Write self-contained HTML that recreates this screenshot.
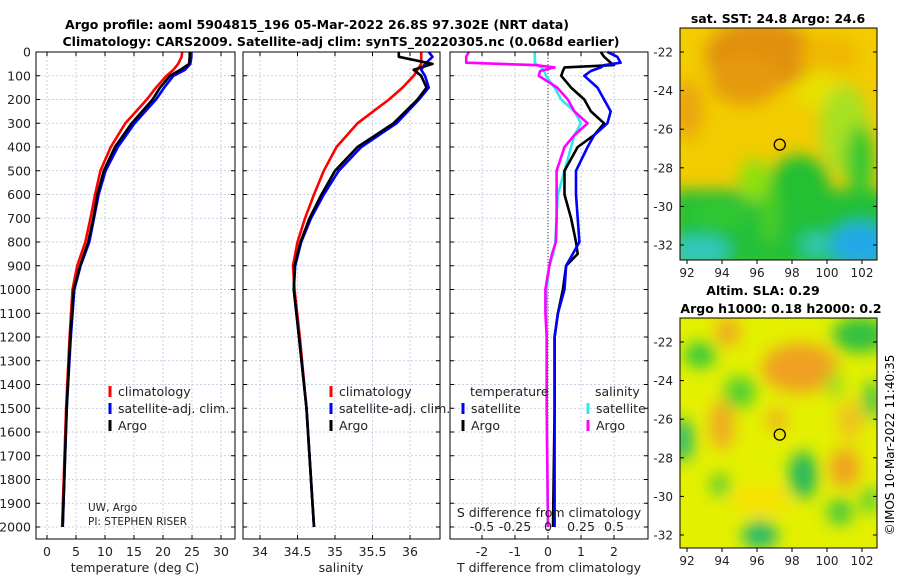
<!DOCTYPE html>
<html><head><meta charset="utf-8"><style>
body{margin:0;background:#fff;}
svg{display:block;font-family:"DejaVu Sans","Liberation Sans",sans-serif;}
</style></head><body>
<svg id="c" width="900" height="580" viewBox="0 0 900 580" xmlns="http://www.w3.org/2000/svg">
<defs>
<filter id="bl" x="-50%" y="-50%" width="200%" height="200%"><feGaussianBlur stdDeviation="8"/></filter>
<clipPath id="m1"><rect x="680" y="28" width="197" height="232"/></clipPath>
<clipPath id="m2"><rect x="680" y="318" width="197" height="230"/></clipPath>
</defs>
<text x="317" y="29" text-anchor="middle" font-size="12.5" font-weight="bold">Argo profile: aoml 5904815_196 05-Mar-2022 26.8S 97.302E (NRT data)</text>
<text x="341" y="46" text-anchor="middle" font-size="12.5" font-weight="bold">Climatology: CARS2009. Satellite-adj clim: synTS_20220305.nc (0.068d earlier)</text>
<g id="plots"></g>
<g clip-path="url(#m1)">
<rect x="680" y="28" width="197" height="232" fill="#f2cc00"/>
<g filter="url(#bl)">
<ellipse cx="760" cy="55" rx="55" ry="35" fill="#e09010"/>
<ellipse cx="745" cy="80" rx="35" ry="25" fill="#e59a10"/>
<ellipse cx="688" cy="110" rx="15" ry="30" fill="#eaa510"/>
<ellipse cx="830" cy="55" rx="30" ry="20" fill="#f0b800"/>
<ellipse cx="820" cy="90" rx="25" ry="20" fill="#e8e000"/>
<ellipse cx="845" cy="130" rx="25" ry="45" fill="#a8e020"/>
<ellipse cx="860" cy="160" rx="14" ry="35" fill="#30c830"/>
<rect x="672" y="190" width="220" height="80" fill="#20c038"/>
<ellipse cx="800" cy="185" rx="30" ry="30" fill="#20c030"/>
<ellipse cx="755" cy="180" rx="16" ry="22" fill="#90e010"/>
<ellipse cx="720" cy="215" rx="30" ry="12" fill="#30c830"/>
<ellipse cx="700" cy="250" rx="30" ry="14" fill="#30c8c0"/>
<ellipse cx="860" cy="245" rx="30" ry="22" fill="#20a8e8"/>
<ellipse cx="815" cy="245" rx="15" ry="12" fill="#30c8b0"/>
<ellipse cx="770" cy="215" rx="8" ry="30" fill="#50d020"/>
</g>
</g>
<rect x="680" y="28" width="197" height="232" fill="none" stroke="#000"/>
<text x="778" y="23" text-anchor="middle" font-size="12.5" font-weight="bold">sat. SST: 24.8 Argo: 24.6</text>
<g clip-path="url(#m2)">
<rect x="680" y="318" width="197" height="230" fill="#e4f000"/>
<g filter="url(#bl)">
<ellipse cx="800" cy="368" rx="38" ry="25" fill="#f0a020"/>
<ellipse cx="728" cy="332" rx="12" ry="15" fill="#f0a820"/>
<ellipse cx="722" cy="425" rx="12" ry="25" fill="#f0a828"/>
<ellipse cx="845" cy="468" rx="15" ry="20" fill="#f0a020"/>
<ellipse cx="777" cy="420" rx="10" ry="12" fill="#f0b020"/>
<ellipse cx="850" cy="420" rx="12" ry="20" fill="#f0c020"/>
<ellipse cx="760" cy="500" rx="30" ry="15" fill="#f8e000"/>
<ellipse cx="700" cy="355" rx="16" ry="13" fill="#30c840"/>
<ellipse cx="740" cy="392" rx="16" ry="16" fill="#50d030"/>
<ellipse cx="683" cy="440" rx="10" ry="22" fill="#20b870"/>
<ellipse cx="803" cy="475" rx="14" ry="24" fill="#20b860"/>
<ellipse cx="860" cy="335" rx="28" ry="18" fill="#30c040"/>
<ellipse cx="872" cy="400" rx="8" ry="20" fill="#30c050"/>
<ellipse cx="835" cy="385" rx="8" ry="14" fill="#90e020"/>
<ellipse cx="720" cy="485" rx="9" ry="11" fill="#40c840"/>
<ellipse cx="760" cy="535" rx="18" ry="14" fill="#20b870"/>
<ellipse cx="840" cy="512" rx="13" ry="13" fill="#40c840"/>
<ellipse cx="870" cy="500" rx="8" ry="13" fill="#40c840"/>
</g>
</g>
<rect x="680" y="318" width="197" height="230" fill="none" stroke="#000"/>
<text x="763" y="295" text-anchor="middle" font-size="12.5" font-weight="bold">Altim. SLA: 0.29</text>
<text x="781" y="313" text-anchor="middle" font-size="12.5" font-weight="bold">Argo h1000: 0.18 h2000: 0.2</text>
<text x="894" y="445" transform="rotate(-90 894 445)" text-anchor="middle" font-size="12">©IMOS 10-Mar-2022 11:40:35</text>
<g id="maps"></g>
</svg>
<script>
const depthTicks=[0,100,200,300,400,500,600,700,800,900,1000,1100,1200,1300,1400,1500,1600,1700,1800,1900,2000];
const tempTicks=[0,5,10,15,20,25,30];
const salTicks=[34,34.5,35,35.5,36];
const tdiffTicks=[-2,-1,0,1,2];
const sdiffTicks=[-0.5,-0.25,0,0.25,0.5];
const profDepth=[0,20,50,75,100,150,200,300,400,500,600,700,800,900,1000,1200,1500,2000];
const tempClim=[23.3,23.2,22.6,21.8,20.6,18.8,17.2,13.5,11.0,9.2,8.3,7.5,6.6,5.2,4.4,3.9,3.3,2.6];
const tempSat=[24.9,24.9,24.7,23.8,21.8,20.2,18.8,15.1,12.2,10.1,8.9,8.1,7.3,5.8,4.7,4.1,3.4,2.7];
const tempArgo=[24.6,24.6,24.5,23.0,21.2,19.5,18.2,14.6,11.7,9.8,8.7,8.0,7.1,5.7,4.6,4.0,3.4,2.7];
const salClim=[36.15,36.15,36.15,36.1,36.05,35.9,35.72,35.3,35.02,34.85,34.72,34.6,34.5,34.44,34.46,34.53,34.62,34.72];
const salSat=[36.25,36.3,36.2,36.15,36.2,36.25,36.12,35.82,35.35,35.05,34.85,34.68,34.55,34.47,34.45,34.52,34.62,34.72];
const salArgo=[35.85,35.85,36.3,36.05,36.15,36.22,36.1,35.78,35.3,35.0,34.82,34.66,34.54,34.46,34.45,34.52,34.62,34.72];
const diffDepth=[0,20,45,55,65,80,100,150,200,250,300,350,400,500,600,700,800,850,900,1000,1100,1200,1500,2000];
const tdiffSat=[1.8,2.1,2.2,1.7,1.6,1.3,1.1,1.5,1.7,1.9,1.8,1.4,1.2,0.85,0.85,0.9,0.95,0.75,0.55,0.5,0.3,0.2,0.2,0.2];
const tdiffArgo=[1.6,1.7,1.9,2.0,0.5,0.45,0.4,0.7,1.1,1.3,1.7,1.4,0.9,0.5,0.5,0.7,0.85,0.9,0.55,0.45,0.3,0.2,0.2,0.15];
const sdiffSat=[-0.1,-0.1,-0.1,-0.08,-0.05,-0.03,-0.015,0.05,0.1,0.2,0.25,0.2,0.175,0.125,0.075,0.065,0.055,0.04,0.01,-0.01,-0.01,-0.01,-0.01,0];
const sdiffArgo=[-0.6,-0.62,-0.62,-0.1,0.05,-0.06,-0.07,0.07,0.15,0.2,0.3,0.2,0.125,0.065,0.065,0.065,0.06,0.03,0.01,-0.02,-0.02,-0.01,-0.01,0];
const latTicks=[-22,-24,-26,-28,-30,-32];
const lonTicks=[92,94,96,98,100,102];
const argoPos=[97.3,-26.8];
const NS='http://www.w3.org/2000/svg';
const yD=d=>52+d*0.2375;
const xT=v=>47+v*5.8;
const xS=v=>260+(v-34)*75;
const xTD=v=>548+v*33;
const xSD=v=>548+v*132;
const panels=[{x:36,w:199,name:'temperature'},{x:243,w:197,name:'salinity'},{x:450,w:198,name:'difference'}];
const g=document.getElementById('plots');
function el(t,a,p){const e=document.createElementNS(NS,t);for(const k in a)e.setAttribute(k,a[k]);(p||g).appendChild(e);return e;}
function txt(x,y,s,a,p){const e=el('text',Object.assign({x:x,y:y,'font-size':12.5,fill:'#222'},a||{}),p);e.textContent=s;return e;}
const T=52,B=539;
panels.forEach((p,i)=>{
  const pg=el('g',{});
  
  
  depthTicks.forEach(d=>{el('line',{x1:p.x,x2:p.x+p.w,y1:yD(d),y2:yD(d),stroke:'#b8c4dc','stroke-width':0.8,'stroke-dasharray':'2,2'},pg);
    el('line',{x1:p.x,x2:p.x+4,y1:yD(d),y2:yD(d),stroke:'#000'},pg);el('line',{x1:p.x+p.w-4,x2:p.x+p.w,y1:yD(d),y2:yD(d),stroke:'#000'},pg);});
  const ticks=i==0?tempTicks:i==1?salTicks:tdiffTicks;const sc=i==0?xT:i==1?xS:xTD;
  ticks.forEach(t=>{const x=sc(t);el('line',{x1:x,x2:x,y1:T,y2:B,stroke:'#b8c4dc','stroke-width':0.8,'stroke-dasharray':'2,2'},pg);
    el('line',{x1:x,x2:x,y1:B,y2:B-4,stroke:'#000'},pg);el('line',{x1:x,x2:x,y1:T,y2:T+4,stroke:'#000'},pg);
    const l=txt(x,556,String(t),{'text-anchor':'middle'},pg);});
});
depthTicks.forEach(d=>{const l=txt(31,yD(d)+4.5,String(d),{'text-anchor':'end'});});
el('line',{x1:548,x2:548,y1:T,y2:B,stroke:'#333','stroke-dasharray':'1,2'});
function line(xs,ds,sc,col,name,w){const pts=xs.map((v,k)=>sc(v).toFixed(1)+','+yD(ds[k]).toFixed(1)).join(' ');
  const e=el('polyline',{points:pts,fill:'none',stroke:col,'stroke-width':w||2.6,'stroke-linejoin':'round'});
  }
line(tempClim,profDepth,xT,'#f00','temp-climatology-line');
line(tempSat,profDepth,xT,'#00f','temp-satellite-line');
line(tempArgo,profDepth,xT,'#000','temp-argo-line');
line(salClim,profDepth,xS,'#f00','sal-climatology-line');
line(salSat,profDepth,xS,'#00f','sal-satellite-line');
line(salArgo,profDepth,xS,'#000','sal-argo-line');
line(sdiffSat,diffDepth,xSD,'#30e8f0','sdiff-satellite-line');
line(tdiffArgo,diffDepth,xTD,'#000','tdiff-argo-line');
line(tdiffSat,diffDepth,xTD,'#00f','tdiff-satellite-line');
line(sdiffArgo,diffDepth,xSD,'#f0f','sdiff-argo-line');
panels.forEach(p=>{el('rect',{x:p.x,y:T,width:p.w,height:B-T,fill:'none',stroke:'#000'});});
sdiffTicks.forEach(t=>{const l=txt(xSD(t),531,String(t),{'text-anchor':'middle'});});
txt(549,517,'S difference from climatology',{'text-anchor':'middle'});
txt(135,572,'temperature (deg C)',{'text-anchor':'middle'});
txt(341,572,'salinity',{'text-anchor':'middle'});
txt(549,572,'T difference from climatology',{'text-anchor':'middle'});
txt(88,511,'UW, Argo',{'font-size':10.5});
txt(88,525,'PI: STEPHEN RISER',{'font-size':10.5});
function leg(x,y,col,s,name){const l=el('line',{x1:x,x2:x,y1:y-10,y2:y+1,stroke:col,'stroke-width':3});
  const t=txt(x+8,y,s);}
leg(110,396,'#f00','climatology','legend-climatology');
leg(110,413,'#00f','satellite-adj. clim.','legend-satellite');
leg(110,430,'#000','Argo','legend-argo');
leg(331,396,'#f00','climatology','legend-sal-climatology');
leg(331,413,'#00f','satellite-adj. clim.','legend-sal-satellite');
leg(331,430,'#000','Argo','legend-sal-argo');
txt(470,396,'temperature');txt(595,396,'salinity');
leg(463,413,'#00f','satellite','legend-t-satellite');
leg(463,430,'#000','Argo','legend-t-argo');
leg(588,413,'#30e8f0','satellite','legend-s-satellite');
leg(588,430,'#f0f','Argo','legend-s-argo');
const mg=document.getElementById('maps');
const xL=v=>687+(v-92)*17.5;
const maps=[{yLat:v=>52+(-22-v)*19.3,top:28,bot:260},{yLat:v=>342+(-22-v)*19.3,top:318,bot:548}];
maps.forEach((m,i)=>{
  latTicks.forEach(v=>{const y=m.yLat(v);el('line',{x1:680,x2:684,y1:y,y2:y,stroke:'#000'},mg);el('line',{x1:873,x2:877,y1:y,y2:y,stroke:'#000'},mg);
    const l=txt(673,y+4.5,String(v),{'text-anchor':'end','font-size':12},mg);});
  lonTicks.forEach(v=>{const x=xL(v);el('line',{x1:x,x2:x,y1:m.bot,y2:m.bot+4,stroke:'#000'},mg);
    const l=txt(x,m.bot+17,String(v),{'text-anchor':'middle','font-size':12},mg);});
  const c=el('circle',{cx:xL(argoPos[0]),cy:m.yLat(argoPos[1]),r:5.5,fill:'none',stroke:'#000','stroke-width':1.3},mg);
  
});
</script>
</body></html>
